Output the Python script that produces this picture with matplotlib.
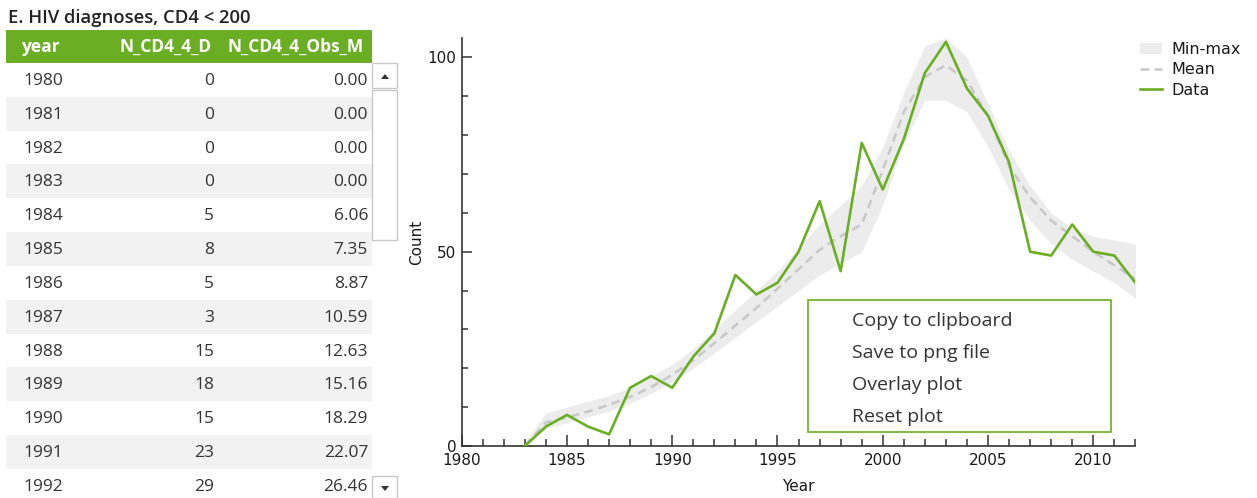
import numpy as np
import matplotlib
matplotlib.use("Agg")
import matplotlib.pyplot as plt
from matplotlib.patches import Rectangle, Patch, Polygon
from matplotlib.lines import Line2D
from matplotlib.ticker import MultipleLocator

W, H = 1257, 498
DPI = 100

GREEN = "#6aaf23"
TXT = "#333333"
ROW_GRAY = "#f2f2f2"

# ── Data ───────────────────────────────────────────────────────
years = list(range(1980, 2013))
n_diag = [0, 0, 0, 0, 5, 8, 5, 3, 15, 18, 15, 23, 29,
          44, 39, 42, 50, 63, 45, 78, 66, 79, 96, 104, 92, 85, 73,
          50, 49, 57, 50, 49, 42]
obs_mean = [0.00, 0.00, 0.00, 0.00, 6.06, 7.35, 8.87, 10.59, 12.63, 15.16,
            18.29, 22.07, 26.46,
            31.0, 35.5, 40.5, 45.5, 50.5, 54.0, 57.0, 71.0, 86.0, 95.0,
            98.0, 94.0, 85.0, 72.0, 64.0, 58.0, 54.0, 50.0, 46.5, 43.0]
band_min = [0, 0, 0,
            0, 4.5, 6, 7.5, 9, 11, 13.5, 16.5, 20, 24,
            28, 32, 36, 40, 44, 47, 50, 62, 78, 89,
            89, 86, 77, 66, 58, 52, 48, 45, 42, 38]
band_max = [0, 0, 0,
            1, 8.5, 10, 11.5, 13, 15, 18, 21, 25, 30,
            35, 40, 45, 51, 57, 62, 67, 77, 91, 103,
            105, 100, 88, 76, 67, 60, 56, 54, 53, 52]

first_year = 1983          # series drawn from here on
table_rows = 13            # rows visible in the grid
menu_items = ["Copy to clipboard", "Save to png file", "Overlay plot", "Reset plot"]
columns = ["year", "N_CD4_4_D", "N_CD4_4_Obs_M"]

yrs = np.array(years)
sel = yrs >= first_year


def fx(x):
    return x / W


def fy(y):
    return 1 - y / H


fig = plt.figure(figsize=(W / DPI, H / DPI), dpi=DPI)
fig.patch.set_facecolor("white")

# ── Table (left) ──────────────────────────────────────────────
tfont = "Open Sans"
fig.text(fx(8), fy(18), "E. HIV diagnoses, CD4 < 200", family=tfont,
         fontsize=13.3, fontweight="semibold", color="#222222", va="center", ha="left")

fig.patches.append(Rectangle((fx(6), fy(63)), fx(366), 33 / H, transform=fig.transFigure,
                             facecolor=GREEN, edgecolor="none"))
hdr_y = fy(47)
hdr_kw = dict(family=tfont, fontsize=12.5, fontweight="bold", color="white", va="center")
fig.text(fx(22), hdr_y, columns[0], ha="left", **hdr_kw)
fig.text(fx(212), hdr_y, columns[1], ha="right", **hdr_kw)
fig.text(fx(364), hdr_y, columns[2], ha="right", **hdr_kw)

row_h = 33.83
cell_kw = dict(family=tfont, fontsize=12.5, color=TXT, va="center")
for i in range(table_rows):
    top = 63 + row_h * i
    if i % 2 == 1:
        fig.patches.append(Rectangle((fx(6), fy(top + row_h)), fx(366), row_h / H,
                                     transform=fig.transFigure, facecolor=ROW_GRAY,
                                     edgecolor="none"))
    cy = fy(top + row_h / 2 + 1)
    fig.text(fx(23), cy, f"{years[i]}", ha="left", **cell_kw)
    fig.text(fx(214), cy, f"{n_diag[i]}", ha="right", **cell_kw)
    fig.text(fx(368), cy, f"{obs_mean[i]:.2f}", ha="right", **cell_kw)

# scrollbar
sb_kw = dict(transform=fig.transFigure, facecolor="white", edgecolor="#c8c8c8", lw=1)
fig.patches.append(Rectangle((fx(372), fy(88)), fx(25), 25 / H, **sb_kw))
fig.patches.append(Rectangle((fx(372), fy(240)), fx(25), 150 / H, **sb_kw))
fig.patches.append(Rectangle((fx(372), fy(498)), fx(25), 22 / H, **sb_kw))
fig.patches.append(Polygon([(fx(381), fy(79)), (fx(389), fy(79)), (fx(385), fy(74))],
                           closed=True, transform=fig.transFigure, facecolor="#333",
                           edgecolor="none"))
fig.patches.append(Polygon([(fx(381), fy(486)), (fx(389), fy(486)), (fx(385), fy(491))],
                           closed=True, transform=fig.transFigure, facecolor="#333",
                           edgecolor="none"))

# ── Plot (right) ──────────────────────────────────────────────
ax_l, ax_r, ax_t, ax_b = 461.7, 1135.4, 38, 446
ax = fig.add_axes([fx(ax_l), fy(ax_b), (ax_r - ax_l) / W, (ax_b - ax_t) / H])

ax.fill_between(yrs[sel], np.array(band_min)[sel], np.array(band_max)[sel],
                color="#ececec", lw=0, zorder=1)
ax.plot(yrs[sel], np.array(obs_mean)[sel], color="#c8c8c8", lw=1.8,
        dashes=(3.5, 2.2), zorder=2)
ax.plot(yrs[sel], np.array(n_diag)[sel], color=GREEN, lw=1.9, zorder=3)

ax.set_xlim(1980, 2012)
ax.set_ylim(0, 105)
ax.xaxis.set_major_locator(MultipleLocator(5))
ax.xaxis.set_minor_locator(MultipleLocator(1))
ax.yaxis.set_major_locator(MultipleLocator(50))
ax.yaxis.set_minor_locator(MultipleLocator(10))
for s in ["top", "right"]:
    ax.spines[s].set_visible(False)
for s in ["left", "bottom"]:
    ax.spines[s].set_color("#333333")
    ax.spines[s].set_linewidth(1.2)
ax.tick_params(which="both", direction="in", color="#333333", width=1.1,
               labelsize=11, labelcolor="#1a1a1a")
ax.tick_params(axis="x", which="major", length=8, pad=5)
ax.tick_params(axis="x", which="minor", length=5)
ax.tick_params(axis="y", which="major", length=7, pad=4)
ax.tick_params(axis="y", which="minor", length=4)
ax.set_xlabel("Year", fontsize=11, color="#1a1a1a", labelpad=8)
ax.set_ylabel("Count", fontsize=11, color="#1a1a1a", labelpad=2)

handles = [Patch(facecolor="#ececec", edgecolor="none"),
           Line2D([], [], color="#c8c8c8", lw=1.8, dashes=(3.5, 2.2)),
           Line2D([], [], color=GREEN, lw=1.9)]
fig.legend(handles, ["Min-max", "Mean", "Data"], loc="upper left",
           bbox_to_anchor=(fx(1140), fy(42)), frameon=False, fontsize=11.5,
           borderpad=0, borderaxespad=0, handlelength=1.4, handletextpad=0.55,
           labelspacing=0.33, labelcolor="#1a1a1a")

# ── Context menu ──────────────────────────────────────────────
fig.patches.append(Rectangle((fx(808), fy(432)), fx(303), 132 / H,
                             transform=fig.transFigure, facecolor="white",
                             edgecolor=GREEN, lw=1.2, zorder=5))
for k, item in enumerate(menu_items):
    fig.text(fx(852), fy(321 + 32 * k), item, family=tfont, fontsize=14,
             color=TXT, va="center", ha="left", zorder=6)

fig.savefig("out.png", dpi=DPI)
